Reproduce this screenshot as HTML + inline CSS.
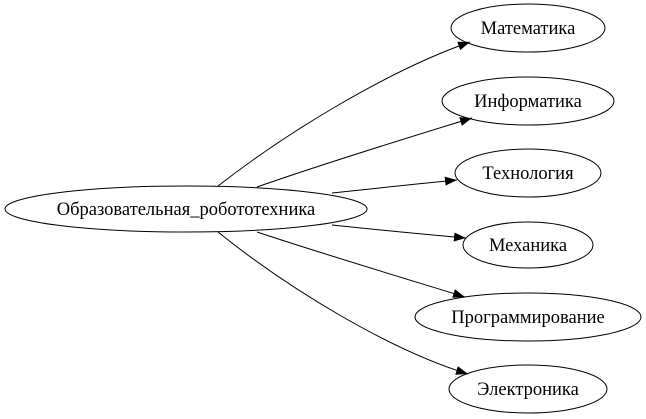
<!DOCTYPE html>
<html><head><meta charset="utf-8"><style>html,body{margin:0;padding:0;background:#fff}svg{display:block}</style></head>
<body>
<svg width="646" height="419" viewBox="0 0 646 419" xmlns="http://www.w3.org/2000/svg">
<defs><marker id="a" markerWidth="12" markerHeight="9" refX="12" refY="4.5" orient="auto" markerUnits="userSpaceOnUse"><path d="M0,0 L12,4.5 L0,9 Z" fill="#000"/></marker></defs>
<g fill="none" stroke="#000" stroke-width="1">
<ellipse cx="186" cy="209" rx="181" ry="23"/>
<ellipse cx="528" cy="28" rx="77" ry="24"/>
<ellipse cx="528" cy="101" rx="86" ry="24"/>
<ellipse cx="528" cy="173" rx="73" ry="24"/>
<ellipse cx="528" cy="245" rx="65" ry="23"/>
<ellipse cx="528" cy="317" rx="113" ry="24"/>
<ellipse cx="528" cy="389" rx="79" ry="24"/>
<path d="M218,186 C290,130 390,70 470,42" marker-end="url(#a)"/>
<path d="M257,187 C320,165 410,137 472,118" marker-end="url(#a)"/>
<path d="M332,193 C370,189 415,184 457,180" marker-end="url(#a)"/>
<path d="M332,225 C370,229 420,234 466,238" marker-end="url(#a)"/>
<path d="M257,232 C320,253 410,280 465,297" marker-end="url(#a)"/>
<path d="M218,232 C290,290 390,350 468,374" marker-end="url(#a)"/>
</g>
<g font-family="'Liberation Serif', serif" font-size="18.5" text-anchor="middle" fill="#000">
<text x="186" y="215">Образовательная_робототехника</text>
<text x="528" y="34">Математика</text>
<text x="528" y="107">Информатика</text>
<text x="528" y="179">Технология</text>
<text x="528" y="251">Механика</text>
<text x="528" y="323">Программирование</text>
<text x="528" y="395">Электроника</text>
</g>
</svg>
</body></html>
